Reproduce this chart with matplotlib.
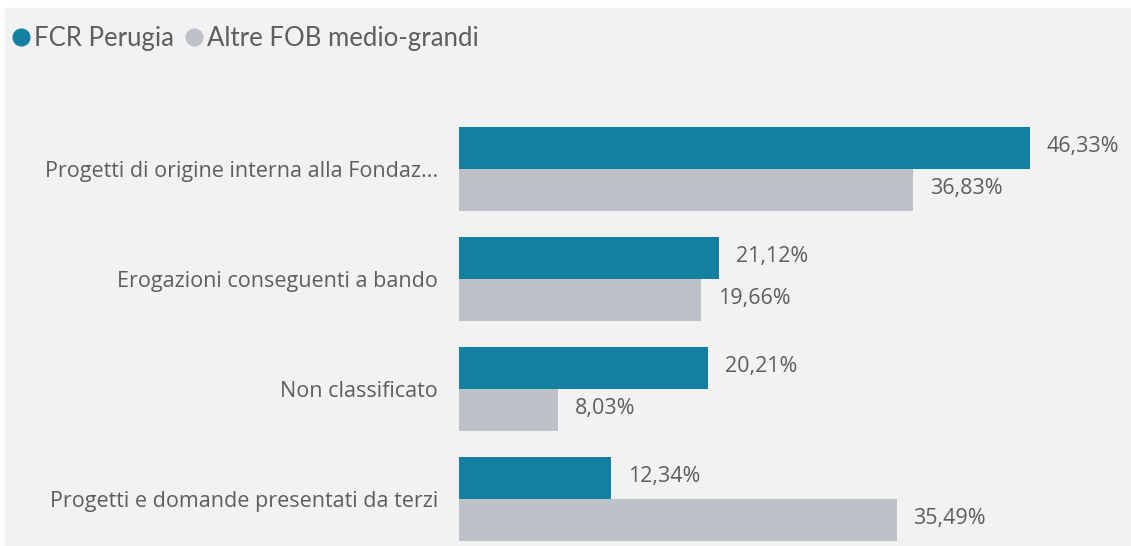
import matplotlib.pyplot as plt
from matplotlib.lines import Line2D
from matplotlib.patches import Rectangle
import numpy as np

categorie = ["Progetti di origine interna alla Fondaz...",
             "Erogazioni conseguenti a bando",
             "Non classificato",
             "Progetti e domande presentati da terzi"]
fcr = [46.33, 21.12, 20.21, 12.34]
altre = [36.83, 19.66, 8.03, 35.49]
serie = ["FCR Perugia", "Altre FOB medio-grandi"]

teal = "#1380A1"
grigio = "#BFC1C8"
testo = "#605E5C"
sfondo = "#F2F2F2"

plt.rcParams['font.family'] = ['Open Sans', 'DejaVu Sans']

fig = plt.figure(figsize=(11.31, 5.46), dpi=100, facecolor="white")
# pannello grigio chiaro
fig.patches.append(Rectangle((5/1131, 0), 1 - 5/1131, (546-8)/546,
                             transform=fig.transFigure, color=sfondo, zorder=-5))

ax = fig.add_axes([459/1131, 0, (1131-459)/1131, 1])
ax.set_facecolor("none")
ax.set_zorder(2)

y = np.arange(len(categorie))
h = 0.38
ax.barh(y - h/2, fcr, height=h, color=teal)
ax.barh(y + h/2, altre, height=h, color=grigio)

def fmt(v):
    return "{:.2f}".format(v).replace(".", ",") + "%"

for i in range(len(categorie)):
    ax.annotate(fmt(fcr[i]), (fcr[i], y[i] - h/2), xytext=(12, 1),
                textcoords="offset points", va="center", ha="left",
                fontsize=15.5, color=testo)
    ax.annotate(fmt(altre[i]), (altre[i], y[i] + h/2), xytext=(12, 1),
                textcoords="offset points", va="center", ha="left",
                fontsize=15.5, color=testo)

ax.set_xlim(0, 54.5)
ax.set_ylim(3.427, -1.536)
ax.set_yticks(y)
ax.set_yticklabels(categorie, fontsize=15.5, color=testo)
ax.tick_params(axis="y", length=0, pad=15)
ax.set_xticks([])
for s in ax.spines.values():
    s.set_visible(False)

handles = [Line2D([], [], marker="o", linestyle="", markersize=12, color=teal),
           Line2D([], [], marker="o", linestyle="", markersize=12, color=grigio)]
fig.legend(handles, serie, loc="upper left", bbox_to_anchor=(8/1131, 1 - 26/546),
           ncol=2, frameon=False, prop={"family": "Lato", "size": 18.5},
           labelcolor=testo, handletextpad=0.0, columnspacing=0.3,
           handlelength=1.0, borderaxespad=0, borderpad=0)

fig.savefig("out.png", dpi=100, facecolor="white")
